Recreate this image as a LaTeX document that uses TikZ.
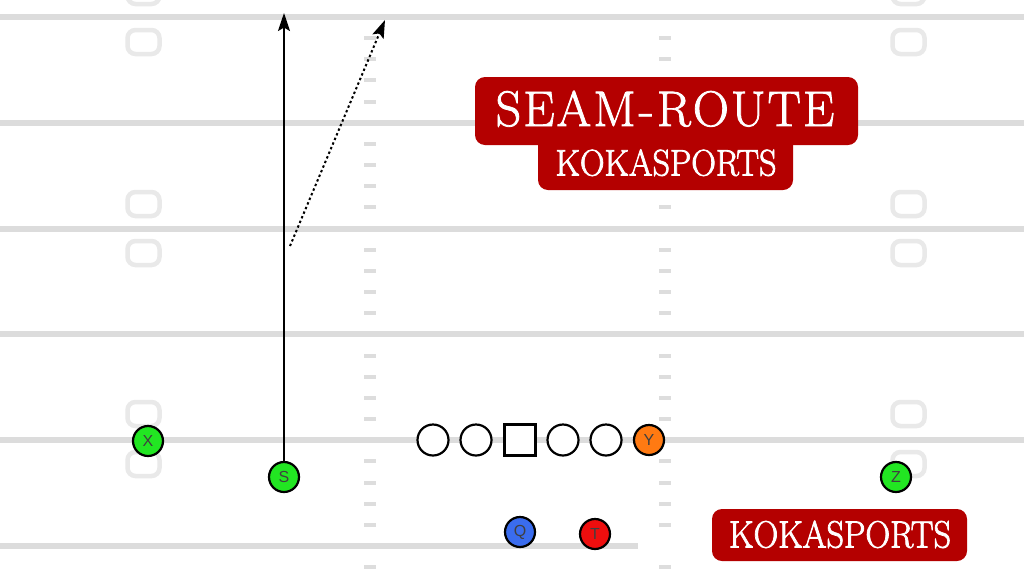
\documentclass[tikz,border=0pt]{standalone}
\usepackage{fontspec}
\usetikzlibrary{arrows.meta}
\newfontfamily\plfont{Liberation Sans}
\definecolor{yardgray}{HTML}{DCDCDC}
\definecolor{hashgray}{HTML}{DDDDDD}
\definecolor{numgray}{HTML}{E9E9E9}
\definecolor{bannerred}{HTML}{B40000}
\definecolor{pgreen}{HTML}{22E622}
\definecolor{porange}{HTML}{FF7A12}
\definecolor{pblue}{HTML}{3A6CEE}
\definecolor{pred}{HTML}{EE0E0E}
\newcommand{\heavier}{\special{pdf:literal direct 2 Tr 0.8 w 1 1 1 RG}}
\newcommand{\seamtitle}{S\kern2pt E\kern2pt A\kern2pt M\kern3pt -\kern3pt R\kern2pt O\kern2pt U\kern2pt T\kern2pt E}
\begin{document}
\begin{tikzpicture}[x=1pt,y=-1pt,
  yard/.style={draw=yardgray, line width=6pt},
  hashmark/.style={fill=hashgray, draw=none},
  numbox/.style={draw=numgray, line width=4.5pt, rounded corners=8pt},
  player/.style={circle, draw=black, line width=2.2pt, minimum size=30pt, inner sep=0pt,
    font=\plfont\fontsize{16}{16}\selectfont, text=black!75},
  lineman/.style={circle, draw=black, line width=2.2pt, minimum size=31pt, inner sep=0pt, fill=white},
  snapbox/.style={rectangle, draw=black, line width=2.2pt, minimum size=31pt, inner sep=0pt, fill=white},
  route/.style={line width=2pt, -{Stealth[length=18pt,width=12pt,inset=3.5pt]}},
  dotroute/.style={route, dash pattern=on 2.4pt off 2.6pt},
  banner/.style={fill=bannerred, draw=none, rounded corners=10pt, inner sep=0pt},
  bigtext/.style={text=white, inner sep=0pt, font=\fontsize{50}{50}\selectfont},
  subtext/.style={text=white, inner sep=0pt, font=\fontsize{37}{37}\selectfont},
  brandtext/.style={text=white, inner sep=0pt, font=\fontsize{38}{38}\selectfont},
]
\useasboundingbox (0,0) rectangle (1024,576);
\fill[white] (0,0) rectangle (1024,576);
% yard lines
\foreach \k in {0,...,4} {
  \draw[yard] (0,{17+105.8*\k}) -- (1024,{17+105.8*\k});
}
\draw[yard] (0,546) -- (638,546);
% hash marks
\foreach \j in {-1,...,26} {
  \pgfmathtruncatemacro{\m}{mod(\j+5,5)}
  \ifnum\m=0\relax\else
    \fill[hashgray] (364,{17+21.16*\j-2}) rectangle (376,{17+21.16*\j+2});
    \fill[hashgray] (659,{17+21.16*\j-2}) rectangle (671,{17+21.16*\j+2});
  \fi
}
% number markers
\foreach \yy in {-8,42,204,253,414,464} {
  \draw[numbox] (127.5,{\yy-12}) rectangle (159.5,{\yy+12});
  \draw[numbox] (892.5,{\yy-12}) rectangle (924.5,{\yy+12});
}
% players
\node[player, fill=pgreen] (X) at (148,441) {X};
\node[player, fill=pgreen] (S) at (284,477) {S};
\node[player, fill=pgreen] (Z) at (896,477) {Z};
\node[lineman] (LT) at (433,440) {};
\node[lineman] (LG) at (476,440) {};
\node[snapbox] (C) at (520,440) {};
\node[lineman] (RG) at (563,440) {};
\node[lineman] (RT) at (606,440) {};
\node[player, fill=porange] (Y) at (649,440) {Y};
\node[player, fill=pblue] (Q) at (520,532) {Q};
\node[player, fill=pred] (T) at (595,534) {T};
% routes
\coordinate (goS) at (284,13);
\coordinate (seamStart) at (290,246);
\coordinate (seamEnd) at (385,20);
\draw[route] (S.north) -- (goS);
\draw[dotroute] (seamStart) -- (seamEnd);
% banners
\node[banner, minimum width=383pt, minimum height=68pt] (titlebox) at (666.5,111) {};
\node[bigtext, anchor=base] (title) at (665,126) {\heavier\seamtitle};
\node[banner, minimum width=255pt, minimum height=55pt] (subbox) at (665.5,162.5) {};
\node[subtext, anchor=base] (sub) at (666,175.5) {\heavier\scalebox{0.92}[1]{KOKASPORTS}};
\node[banner, minimum width=255pt, minimum height=52pt] (brandbox) at (839.5,535) {};
\node[brandtext, anchor=base] (brand) at (840,547.5) {\heavier\scalebox{0.9}[1]{KOKASPORTS}};
\end{tikzpicture}
\end{document}
